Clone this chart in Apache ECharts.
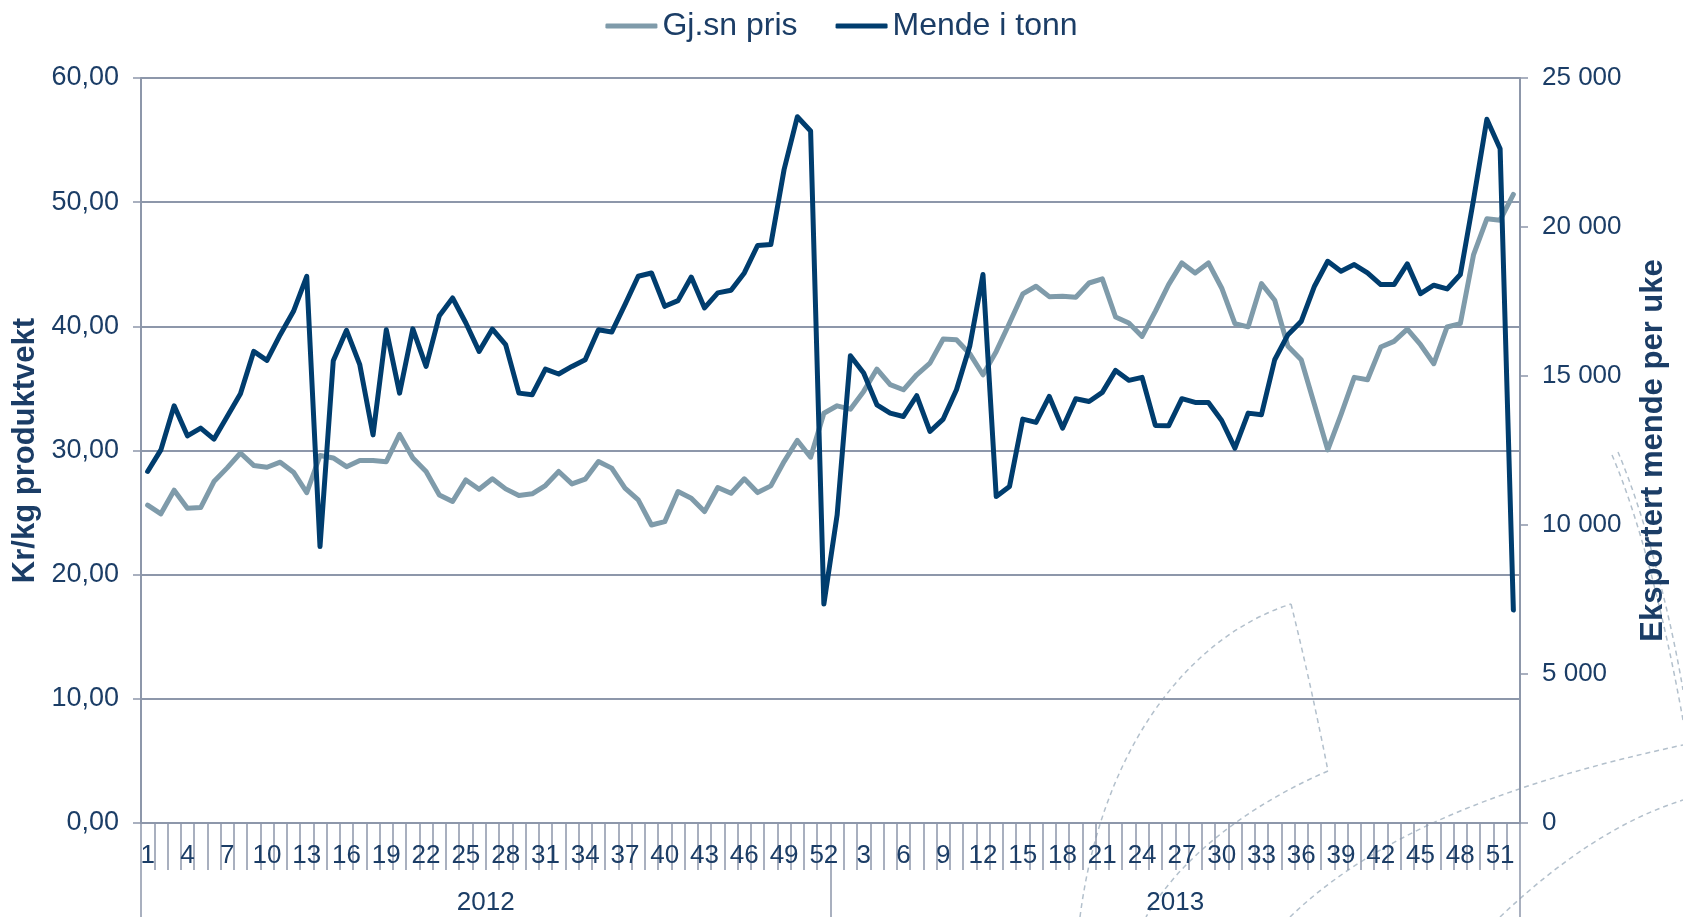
<!DOCTYPE html>
<html>
<head>
<meta charset="utf-8">
<script src="https://cdn.jsdelivr.net/npm/echarts@6/dist/echarts.min.js"></script>
<style>
  html, body { margin: 0; padding: 0; background: #fff; }
  #chart { width: 1683px; height: 917px; }
</style>
</head>
<body>
<div id="chart"></div>
<script>
// weeks per year, two years on the axis
const weeks = [1,2,3,4,5,6,7,8,9,10,11,12,13,14,15,16,17,18,19,20,21,22,23,24,25,26,
  27,28,29,30,31,32,33,34,35,36,37,38,39,40,41,42,43,44,45,46,47,48,49,50,51,52];
const years = ['2012', '2013'];

// Gj.sn pris (kr/kg), weekly
const pris2012 = [25.6, 24.9, 26.8, 25.35, 25.4, 27.5, 28.6, 29.8, 28.8, 28.65, 29.06, 28.25, 26.6,
  29.6, 29.4, 28.7, 29.2, 29.2, 29.1, 31.3, 29.4, 28.31, 26.42, 25.89, 27.63, 26.88,
  27.72, 26.91, 26.37, 26.51, 27.18, 28.31, 27.31, 27.69, 29.11, 28.58, 26.96, 26.02, 24.0,
  24.27, 26.69, 26.16, 25.08, 27.02, 26.56, 27.72, 26.61, 27.15, 29.11, 30.81, 29.46, 33.0];
const pris2013 = [33.6, 33.33, 34.76, 36.56, 35.3, 34.89, 36.1, 37.04, 38.98, 38.92, 37.8, 36.1, 37.98,
  40.27, 42.61, 43.23, 42.39, 42.42, 42.34, 43.49, 43.82, 40.75, 40.27, 39.19, 41.21, 43.36,
  45.11, 44.3, 45.11, 43.09, 40.22, 39.96, 43.44, 42.1, 38.39, 37.31, 33.68, 30.05, 32.88,
  35.89, 35.7, 38.33, 38.79, 39.78, 38.52, 36.99, 39.95, 40.22, 45.78, 48.66, 48.55, 50.62];

// Mende i tonn, weekly
const mende2012 = [11796, 12521, 14000, 12992, 13250, 12880, 13642, 14404, 15826, 15525, 16387, 17171, 18346,
  9275, 15513, 16533, 15379, 13025, 16554, 14425, 16583, 15321, 17025, 17617, 16779, 15826,
  16575, 16050, 14425, 14371, 15233, 15067, 15321, 15546, 16554, 16475, 17396, 18346, 18458,
  17338, 17529, 18320, 17283, 17788, 17875, 18458, 19379, 19412, 21929, 23700, 23221, 7346];
const mende2013 = [10338, 15679, 15100, 14033, 13754, 13642, 14338, 13138, 13554, 14538, 16000, 18404, 10954,
  11292, 13554, 13442, 14313, 13250, 14238, 14146, 14450, 15188, 14854, 14954, 13342, 13329,
  14238, 14113, 14113, 13508, 12579, 13754, 13700, 15546, 16387, 16833, 18013, 18850, 18517,
  18738, 18458, 18067, 18067, 18763, 17763, 18046, 17921, 18404, 20925, 23613, 22625, 7146];

const textColor = '#1b3d66';
const axisColor = '#8d97aa';
const prisColor = '#7f9baa';
const mendeColor = '#003d6e';
const font = '"Liberation Sans", Arial, sans-serif';

const chart = echarts.init(document.getElementById('chart'));

// background watermark arcs (decoration only)
const arcStyle = { stroke: '#b3c0cc', lineWidth: 1.5, lineDash: [5, 4], fill: null };
const arcs = [
  [1080, 917, 1100, 760, 1180, 640, 1291, 604],
  [1291, 604, 1305, 660, 1318, 720, 1328, 771],
  [1328, 771, 1260, 800, 1185, 850, 1146, 917],
  [1290, 917, 1380, 830, 1520, 780, 1683, 745],
  [1500, 917, 1560, 860, 1620, 820, 1683, 800],
  [1612, 455, 1640, 520, 1665, 620, 1683, 720],
  [1618, 452, 1646, 518, 1671, 618, 1683, 690]
].map(a => ({
  type: 'bezierCurve', silent: true, z: -10,
  shape: { x1: a[0], y1: a[1], cpx1: a[2], cpy1: a[3], cpx2: a[4], cpy2: a[5], x2: a[6], y2: a[7] },
  style: arcStyle
}));

const option = {
  backgroundColor: '#fff',
  animation: false,
  textStyle: { fontFamily: font, color: textColor },
  graphic: arcs,
  legend: {
    top: 5,
    left: 'center',
    itemWidth: 52,
    itemHeight: 5,
    itemGap: 38,
    textStyle: { fontSize: 32, color: textColor, fontFamily: font },
    data: [
      { name: 'Gj.sn pris', icon: 'roundRect', itemStyle: { color: prisColor } },
      { name: 'Mende i tonn', icon: 'roundRect', itemStyle: { color: mendeColor } }
    ]
  },
  grid: {
    left: 141,
    right: 163,
    top: 78,
    bottom: 94
  },
  xAxis: [
    {
      type: 'category',
      data: weeks.concat(weeks),
      boundaryGap: true,
      axisLine: { show: true, lineStyle: { color: axisColor, width: 2 } },
      axisTick: { show: true, interval: 0, length: 47, lineStyle: { color: axisColor, width: 1.5 } },
      axisLabel: { interval: 2, fontSize: 26, color: textColor, margin: 20, fontFamily: font }
    },
    {
      type: 'category',
      data: years,
      position: 'bottom',
      boundaryGap: true,
      axisLine: { show: false },
      axisTick: { show: true, interval: 0, length: 96, lineStyle: { color: axisColor, width: 1.5 } },
      axisLabel: { fontSize: 26, color: textColor, margin: 67, fontFamily: font }
    }
  ],
  yAxis: [
    {
      type: 'value',
      min: 0,
      max: 60,
      interval: 10,
      name: 'Kr/kg produktvekt',
      nameLocation: 'middle',
      nameRotate: 90,
      nameGap: 98,
      nameTextStyle: { fontSize: 31, fontWeight: 'bold', color: textColor, fontFamily: font },
      axisLine: { show: true, lineStyle: { color: axisColor, width: 2 } },
      axisTick: { show: true, length: 8, lineStyle: { color: axisColor, width: 1.5 } },
      axisLabel: {
        fontSize: 27, color: textColor, margin: 22, fontFamily: font,
        formatter: v => v.toFixed(2).replace('.', ',')
      },
      splitLine: { show: true, lineStyle: { color: axisColor, width: 2 } }
    },
    {
      type: 'value',
      min: 0,
      max: 25000,
      interval: 5000,
      position: 'right',
      name: 'Eksportert mende per uke',
      nameLocation: 'middle',
      nameRotate: 90,
      nameGap: 118,
      nameTextStyle: { fontSize: 31, fontWeight: 'bold', color: textColor, fontFamily: font },
      axisLine: { show: true, lineStyle: { color: axisColor, width: 2 } },
      axisTick: { show: true, length: 8, lineStyle: { color: axisColor, width: 1.5 } },
      axisLabel: {
        fontSize: 26, color: textColor, margin: 22, fontFamily: font,
        formatter: v => String(v).replace(/\B(?=(\d{3})+(?!\d))/g, ' ')
      },
      splitLine: { show: false }
    }
  ],
  series: [
    {
      name: 'Gj.sn pris',
      type: 'line',
      yAxisIndex: 0,
      symbol: 'none',
      data: pris2012.concat(pris2013),
      itemStyle: { color: prisColor },
      lineStyle: { color: prisColor, width: 5, cap: 'round', join: 'round' }
    },
    {
      name: 'Mende i tonn',
      type: 'line',
      yAxisIndex: 1,
      symbol: 'none',
      data: mende2012.concat(mende2013),
      itemStyle: { color: mendeColor },
      lineStyle: { color: mendeColor, width: 5, cap: 'round', join: 'round' }
    }
  ]
};

chart.setOption(option);
</script>
</body>
</html>
